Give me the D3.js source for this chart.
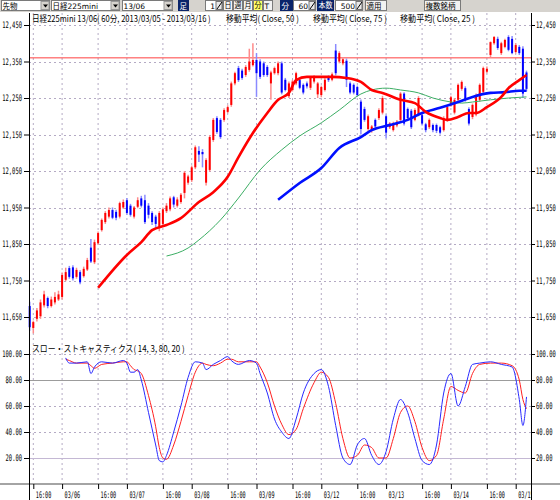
<!DOCTYPE html>
<html>
<head>
<meta charset="utf-8">
<script src="https://cdn.jsdelivr.net/npm/d3@7"></script>
<style>
body { margin: 0; background: #fff; }
svg { display: block; }
text { font-family: "DejaVu Sans Mono", "Noto Sans CJK JP", monospace; }
.jp { font-family: "Noto Sans CJK JP", sans-serif; }
.tbt { font-family: "DejaVu Sans", "Noto Sans CJK JP", sans-serif; }
</style>
</head>
<body>
<svg id="chart" width="560" height="500"></svg>
<script>
// 60 minute bars, 2013/03/05 15:00 .. 2013/03/15 09:00
const opens = [11680,11620,11645,11652,11682,11702,11680,11690,11698,11705,11752,11784,11786,11760,11773,11762,11780,11840,11800,11852,
  11888,11910,11925,11943,11938,11925,11950,11970,11955,11925,11952,11975,11970,11955,11935,11925,11895,11905,11940,11945,
  11978,11955,11965,11990,12018,12025,12060,12105,12102,12018,12053,12135,12195,12190,12190,12212,12231,12290,12332,12325,
  12313,12327,12340,12354,12350,12345,12335,12290,12318,12318,12345,12300,12255,12272,12290,12299,12286,12290,12278,12295,
  12260,12258,12272,12308,12300,12380,12350,12345,12352,12290,12286,12280,12240,12220,12165,12160,12190,12195,12210,12200,
  12170,12162,12175,12190,12262,12220,12215,12190,12205,12203,12178,12170,12176,12176,12170,12162,12190,12230,12210,12245,
  12275,12277,12220,12198,12205,12245,12267,12322,12368,12400,12412,12373,12390,12417,12412,12376,12390,12385,12320];
const highs = [11692,11640,11675,11698,11722,11706,11706,11718,11722,11772,11785,11790,11792,11785,11778,11788,11812,11864,11862,11884,
  11920,11940,11950,11950,11944,11966,11972,11976,11960,11954,11978,11982,11985,11962,11940,11930,11940,11950,11962,11980,
  11982,11978,11990,12050,12040,12065,12120,12118,12110,12085,12148,12195,12200,12195,12222,12230,12295,12322,12338,12330,
  12340,12385,12400,12373,12356,12350,12340,12325,12336,12350,12350,12305,12295,12300,12322,12304,12290,12295,12310,12312,
  12294,12284,12305,12312,12320,12398,12378,12362,12358,12295,12290,12284,12246,12226,12205,12176,12194,12222,12256,12205,
  12184,12185,12190,12266,12266,12224,12220,12222,12255,12208,12182,12194,12180,12180,12174,12200,12230,12256,12250,12290,
  12298,12282,12225,12235,12262,12290,12336,12336,12405,12420,12418,12404,12412,12422,12420,12400,12395,12392,12325];
const lows = [11612,11605,11638,11645,11676,11674,11676,11684,11694,11698,11748,11755,11750,11755,11740,11758,11776,11798,11795,11848,
  11884,11905,11920,11918,11915,11920,11946,11930,11925,11920,11948,11950,11905,11920,11902,11895,11885,11900,11935,11940,
  11950,11950,11960,11975,12012,12020,12055,12075,12060,12010,12048,12130,12152,12138,12185,12208,12226,12285,12294,12300,
  12308,12322,12336,12253,12302,12308,12308,12245,12314,12312,12260,12268,12250,12268,12285,12274,12260,12276,12272,12290,
  12250,12252,12268,12294,12296,12312,12345,12340,12280,12260,12260,12254,12150,12185,12160,12155,12168,12190,12205,12140,
  12165,12158,12170,12185,12175,12190,12165,12186,12200,12175,12156,12165,12156,12154,12150,12158,12185,12226,12205,12240,
  12270,12240,12175,12192,12200,12240,12262,12318,12362,12396,12382,12368,12386,12378,12370,12372,12368,12250,12268];
const closes = [11622,11636,11668,11690,11712,11680,11698,11705,11712,11765,11773,11760,11756,11779,11745,11782,11806,11802,11855,11880,
  11916,11935,11943,11922,11922,11962,11965,11935,11930,11950,11970,11955,11910,11930,11910,11905,11935,11945,11955,11975,
  11958,11972,11985,12045,12035,12060,12115,12095,12096,12080,12143,12190,12157,12143,12217,12225,12290,12318,12299,12305,
  12335,12350,12354,12318,12308,12313,12313,12320,12332,12345,12265,12272,12290,12295,12318,12278,12265,12282,12305,12308,
  12290,12280,12300,12299,12315,12318,12373,12356,12300,12265,12265,12258,12165,12190,12200,12172,12172,12217,12250,12155,
  12180,12180,12185,12262,12180,12195,12170,12217,12250,12180,12162,12190,12162,12160,12155,12195,12225,12252,12245,12286,
  12294,12245,12180,12231,12258,12286,12332,12330,12403,12417,12387,12400,12409,12382,12373,12395,12373,12262,12275];

// moving averages, read at selected bars
const ma25Bars = [19,27,31,34,38,42,47,51,55,58,62,66,69,72,74,77,84,88,92,95,98,103,107,110,114,116,119,122,124,127,131,133,136,138];
const ma25Vals = [11730,11820,11855,11888,11902,11921,11965,11992,12034,12088,12154,12209,12245,12264,12299,12308,12308,12305,12294,12272,12264,12245,12236,12212,12195,12190,12198,12209,12209,12225,12253,12277,12299,12313];
const ma50Bars = [38,44,47,53,58,64,70,75,81,86,92,95,99,103,108,112,117,120,123,128,133,138];
const ma50Vals = [11817,11839,11861,11916,11976,12053,12108,12146,12182,12217,12261,12272,12277,12272,12264,12250,12239,12236,12239,12245,12250,12253];
const ma75Bars = [69,75,81,86,92,95,100,105,109,114,119,123,128,132,136,138];
const ma75Vals = [11971,12017,12058,12113,12143,12162,12176,12190,12209,12223,12239,12253,12264,12266,12270,12270];
const refPrice = 12360;

// slow stochastics (14, 3)
const stochBars = [10,11,13,16,17,18,20,23,26,27,28,29,30,31,33,35,36,37,38,40,42,44,46,48,49,51,53,55,56,58,61,63,64,66,68,70,72,74,76,79,81,83,85,87,89,91,93,95,97,99,101,103,105,107,109,111,113,115,117,119,121,123,125,128,131,134,136,137,138];
const stochK = [97,93,93,94,85,90,94,93,95,93,86,86,88,80,55,30,18,17,22,40,60,82,94,93,88,92,95,98,95,92,95,93,85,70,50,40,35,50,70,85,88,75,45,20,15,30,35,22,15,25,50,65,55,35,18,15,30,70,85,60,75,92,93,94,92,90,65,45,67];
const stochD = [96,95,93,93,91,89,92,93,94,94,91,88,87,85,68,44,28,20,19,30,48,68,86,93,92,91,93,96,96,94,94,94,90,78,60,46,38,42,58,78,86,82,62,35,20,22,30,28,20,20,35,55,60,48,28,18,22,50,75,72,70,85,92,93,93,91,80,65,58];

const priceTicks = [11650,11750,11850,11950,12050,12150,12250,12350,12450];
const stochTicks = [20,40,60,80,100];
const timeTickBars = [1,9,19,27,37,45,55,63,73,81,91,99,109,117,127,135];
const timeTickLabels = ["16:00","03/06","16:00","03/07","16:00","03/08","16:00","03/09","16:00","03/12","16:00","03/13","16:00","03/14","16:00","03/15"];

const plotLeft = 29, plotRight = 531, plotTop = 13, axisBottom = 484;

const x = d3.scaleLinear().domain([0, 138]).range([29.7, 526.5]);
const yP = d3.scaleLinear().domain([11650, 12450]).range([317, 25]);
const yS = d3.scaleLinear().domain([0, 100]).range([484, 354]);

const svg = d3.select("#chart");
svg.append("rect").attr("width", 560).attr("height", 500).attr("fill", "#fff");

// squeeze text horizontally around its anchor so the narrow bitmap look fits
function squeeze(sel, widthOf) {
    sel.each(function(d, i) {
        const t = d3.select(this);
        const natural = this.getComputedTextLength();
        const target = widthOf(this, d, i);
        const k = Math.min(1, target / natural);
        const x0 = +t.attr("x") || 0;
        t.attr("transform", `translate(${x0},0) scale(${k},1) translate(${-x0},0)`);
    });
}
const perChar = w => (node) => node.textContent.length * w;

// ---- toolbar
const tb = svg.append("g");
tb.append("rect").attr("width", 560).attr("height", 12).attr("fill", "#d6d3ce");
const boxes = [
    {x: 1, w: 48, t: "先物", kind: "drop"},
    {x: 51, w: 68, t: "日経225mini", kind: "drop"},
    {x: 122, w: 50, t: "13/06", kind: "drop"},
    {x: 178, w: 10, t: "足", kind: "navy"},
    {x: 205, w: 17, t: "1", kind: "edit"},
    {x: 223, w: 9, t: "日", kind: "btn"},
    {x: 233, w: 9, t: "週", kind: "btn"},
    {x: 243, w: 9, t: "月", kind: "btn"},
    {x: 253, w: 9, t: "分", kind: "yellow"},
    {x: 263, w: 9, t: "T", kind: "btn"},
    {x: 280, w: 12, t: "分", kind: "navy"},
    {x: 293, w: 22, t: "60", kind: "edit"},
    {x: 317, w: 16, t: "本数", kind: "navy"},
    {x: 335, w: 27, t: "500", kind: "edit"},
    {x: 365, w: 21, t: "適用", kind: "btn"},
    {x: 424, w: 36, t: "複数銘柄", kind: "btn"}
];
const fills = {drop: "#fff", edit: "#fff", navy: "#0a246a", btn: "#f2f2f2", yellow: "#ffff66"};
const bx = tb.selectAll("g.box").data(boxes).join("g").attr("class", "box");
bx.append("rect")
    .attr("x", d => d.x + 0.5).attr("y", 0.5)
    .attr("width", d => d.w).attr("height", 10)
    .attr("fill", d => fills[d.kind])
    .attr("stroke", d => d.kind === "navy" ? "#0a246a" : "#7a7a7a");
bx.append("text").attr("class", "tbt")
    .attr("x", d => d.kind === "edit" ? d.x + d.w - 7 : d.x + 1.5)
    .attr("text-anchor", d => d.kind === "edit" ? "end" : "start")
    .attr("y", 8.5).attr("font-size", 7.5)
    .attr("fill", d => d.kind === "navy" ? "#fff" : "#000")
    .text(d => d.t)
    .call(squeeze, (node, d) => d.kind === "drop" ? d.w - 10 : d.kind === "edit" ? d.w - 8 : d.w - 2);
// dropdown arrows and little edit icons
bx.filter(d => d.kind === "drop").append("rect")
    .attr("x", d => d.x + d.w - 8).attr("y", 1.5).attr("width", 8).attr("height", 8)
    .attr("fill", "#d6d3ce").attr("stroke", "#9a9a9a");
bx.filter(d => d.kind === "drop").append("path")
    .attr("d", d => `M${d.x + d.w - 6},4.5h5l-2.5,3z`).attr("fill", "#000");
bx.filter(d => d.kind === "edit").append("rect")
    .attr("x", d => d.x + d.w - 6).attr("y", 1.5).attr("width", 6).attr("height", 8)
    .attr("fill", "#e8e8e8").attr("stroke", "#777");
bx.filter(d => d.kind === "edit").append("path")
    .attr("d", d => `M${d.x + d.w - 5},9l5,-7`).attr("stroke", "#000");

// ---- grid
const grid = svg.append("g");
grid.selectAll("line.vg").data(timeTickBars).join("line")
    .attr("x1", d => x(d)).attr("x2", d => x(d))
    .attr("y1", plotTop).attr("y2", axisBottom)
    .attr("stroke", "#b4aac4").attr("stroke-dasharray", "2,3");
grid.selectAll("line.hg").data(priceTicks).join("line")
    .attr("x1", plotLeft).attr("x2", plotRight)
    .attr("y1", d => Math.round(yP(d)) + 0.5).attr("y2", d => Math.round(yP(d)) + 0.5)
    .attr("stroke", "#b4aac4").attr("stroke-dasharray", "2,3");
grid.selectAll("line.sg").data(stochTicks).join("line")
    .attr("x1", plotLeft).attr("x2", plotRight)
    .attr("y1", d => Math.round(yS(d)) + 0.5).attr("y2", d => Math.round(yS(d)) + 0.5)
    .attr("stroke", d => d === 80 ? "#9c9c9c" : d === 20 ? "#c4b8d4" : "#b4aac4")
    .attr("stroke-dasharray", d => (d === 80 || d === 20) ? null : "2,3");

// reference line
svg.append("line")
    .attr("x1", plotLeft).attr("x2", plotRight)
    .attr("y1", yP(refPrice)).attr("y2", yP(refPrice))
    .attr("stroke", "#ff4040").attr("stroke-width", 1);

// ---- candles
const candles = d3.range(opens.length).map(i => ({i: i, o: opens[i], h: highs[i], l: lows[i], c: closes[i]}));
const cg = svg.append("g");
cg.selectAll("line").data(candles).join("line")
    .attr("x1", d => x(d.i)).attr("x2", d => x(d.i))
    .attr("y1", d => yP(d.h)).attr("y2", d => yP(d.l))
    .attr("stroke", d => d.c >= d.o ? "#ff8a8a" : "#8a8aff").attr("stroke-width", 1.5);
cg.selectAll("rect").data(candles).join("rect")
    .attr("x", d => x(d.i) - 1).attr("width", 2)
    .attr("y", d => yP(Math.max(d.o, d.c)))
    .attr("height", d => Math.max(1, Math.abs(yP(d.o) - yP(d.c))))
    .attr("fill", d => d.c >= d.o ? "#ff0000" : "#0000ff");

// ---- moving averages
const maLine = d3.line().x(d => x(d[0])).y(d => yP(d[1])).curve(d3.curveMonotoneX);
const maSeries = [
    {bars: ma50Bars, vals: ma50Vals, color: "#3cae64", w: 1},
    {bars: ma75Bars, vals: ma75Vals, color: "#0010ff", w: 2.6},
    {bars: ma25Bars, vals: ma25Vals, color: "#ff0000", w: 2.6}
];
svg.selectAll("path.ma").data(maSeries).join("path")
    .attr("class", "ma")
    .attr("d", d => maLine(d.bars.map((b, k) => [b, d.vals[k]])))
    .attr("fill", "none").attr("stroke", d => d.color).attr("stroke-width", d => d.w);

// ---- stochastics
const stLine = d3.line().x(d => x(d[0])).y(d => yS(d[1])).curve(d3.curveMonotoneX);
svg.append("path").attr("d", stLine(stochBars.map((b, k) => [b, stochD[k]])))
    .attr("fill", "none").attr("stroke", "#ff2020").attr("stroke-width", 1);
svg.append("path").attr("d", stLine(stochBars.map((b, k) => [b, stochK[k]])))
    .attr("fill", "none").attr("stroke", "#2a2aff").attr("stroke-width", 1);

// ---- axes
const fmtP = d3.format(",");
const fmtS = d3.format(".2f");
function styleAxis(g) {
    g.select(".domain").remove();
    g.selectAll("text").attr("font-size", 9).attr("fill", "#000").call(squeeze, perChar(3.3));
}
svg.append("g").attr("transform", `translate(${plotLeft},0)`)
    .call(d3.axisLeft(yP).tickValues(priceTicks).tickFormat(fmtP).tickSize(5).tickPadding(2))
    .call(styleAxis);
svg.append("g").attr("transform", `translate(${plotRight},0)`)
    .call(d3.axisRight(yP).tickValues(priceTicks).tickFormat(fmtP).tickSize(4).tickPadding(1))
    .call(styleAxis);
svg.append("g").attr("transform", `translate(${plotLeft},0)`)
    .call(d3.axisLeft(yS).tickValues(stochTicks).tickFormat(fmtS).tickSize(5).tickPadding(2))
    .call(styleAxis);
svg.append("g").attr("transform", `translate(${plotRight},0)`)
    .call(d3.axisRight(yS).tickValues(stochTicks).tickFormat(fmtS).tickSize(4).tickPadding(1))
    .call(styleAxis);

// bottom time axis
svg.append("line").attr("x1", 0).attr("x2", 560).attr("y1", axisBottom).attr("y2", axisBottom)
    .attr("stroke", "#a4a4a4").attr("stroke-width", 2);
svg.append("clipPath").attr("id", "tclip").append("rect")
    .attr("x", 0).attr("y", -4).attr("width", plotRight).attr("height", 20);
const tAxis = svg.append("g").attr("transform", `translate(0,${axisBottom})`)
    .attr("clip-path", "url(#tclip)")
    .call(d3.axisBottom(x).tickValues(timeTickBars).tickFormat((d, k) => timeTickLabels[k]).tickSize(5).tickPadding(3));
tAxis.select(".domain").remove();
tAxis.selectAll("text").attr("font-size", 9).attr("text-anchor", "start").attr("x", 2).attr("fill", "#000")
    .call(squeeze, perChar(3.1));

// vertical axis lines
svg.selectAll("line.vax").data([plotLeft, plotRight]).join("line")
    .attr("x1", d => d + 0.5).attr("x2", d => d + 0.5)
    .attr("y1", plotTop).attr("y2", 500).attr("stroke", "#000");

// ---- titles
const titles = [
    {x: 32, y: 22, w: 179, t: "日経225mini 13/06( 60分, 2013/03/05 - 2013/03/16 )"},
    {x: 226, y: 22, w: 73, t: "移動平均( Close, 50 )"},
    {x: 313, y: 22, w: 74, t: "移動平均( Close, 75 )"},
    {x: 400, y: 22, w: 75, t: "移動平均( Close, 25 )"},
    {x: 32, y: 352, w: 153, t: "スロー・ストキャスティクス( 14, 3, 80, 20 )"}
];
svg.selectAll("text.title").data(titles).join("text")
    .attr("class", "title jp")
    .attr("x", d => d.x).attr("y", d => d.y)
    .attr("font-size", 9)
    .text(d => d.t)
    .call(squeeze, (node, d) => d.w);
</script>
</body>
</html>
